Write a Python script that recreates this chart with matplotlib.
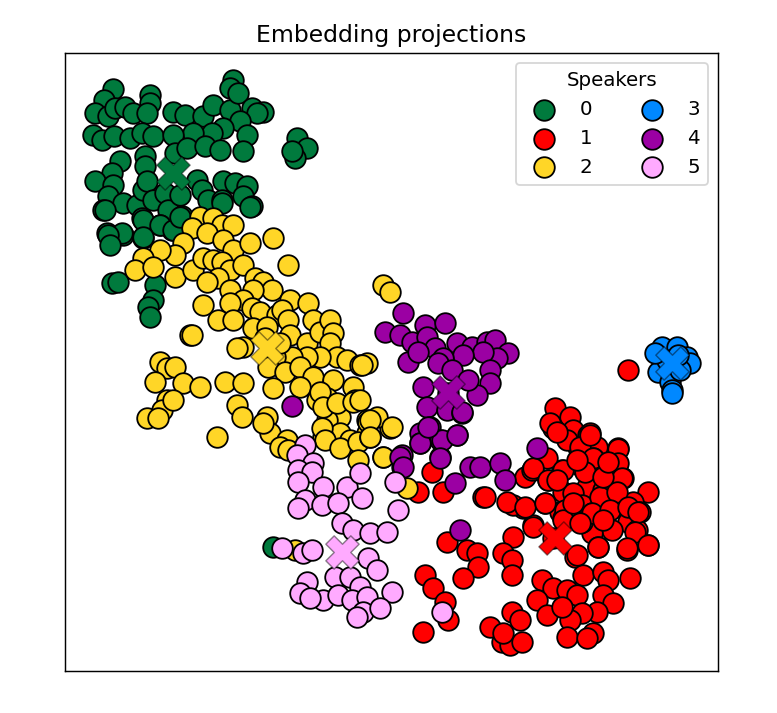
import numpy as np
import matplotlib
matplotlib.use("Agg")
import matplotlib.pyplot as plt

# 2-D embedding projections per speaker (screen-like units)
x0 = [113, 104, 95, 108, 115, 125, 133, 150, 150, 147, 93, 102, 114, 130, 142, 153, 173, 185, 203, 213,
      230, 233, 230, 238, 252, 263, 257, 240, 223, 212, 193, 173, 175, 187, 205, 220, 247, 243, 120, 145,
      145, 112, 95, 113, 108, 103, 123, 137, 143, 147, 153, 165, 168, 180, 197, 202, 208, 223, 235, 247,
      243, 252, 222, 142, 160, 107, 123, 143, 172, 182, 297, 307, 295, 292, 105, 122, 108, 110, 143, 160,
      143, 155, 153, 148, 150, 112, 118, 173, 180, 222, 250, 273]
y0 = [89, 100, 113, 116, 108, 107, 113, 95, 103, 113, 135, 140, 136, 138, 133, 136, 112, 115, 116, 105,
      110, 80, 88, 93, 108, 112, 113, 121, 128, 133, 133, 135, 153, 148, 146, 150, 135, 151, 161, 156,
      166, 173, 181, 185, 196, 210, 203, 205, 190, 181, 200, 193, 210, 195, 180, 190, 200, 181, 183, 186,
      196, 206, 200, 218, 225, 233, 235, 238, 230, 216, 138, 148, 158, 151, 210, 233, 235, 245, 220, 225,
      237, 285, 300, 307, 317, 283, 282, 230, 217, 203, 207, 547]

x1 = [555, 570, 553, 573, 588, 597, 578, 567, 618, 617, 623, 593, 582, 597, 562, 547, 533, 525, 548, 563,
      587, 573, 603, 613, 648, 633, 640, 545, 560, 582, 592, 600, 628, 637, 648, 627, 612, 592, 598, 582,
      563, 553, 533, 523, 513, 507, 483, 513, 503, 512, 512, 575, 583, 603, 608, 630, 542, 553, 537, 547,
      567, 577, 603, 613, 597, 582, 570, 562, 567, 593, 587, 512, 520, 490, 502, 510, 522, 503, 447, 467,
      477, 478, 463, 425, 433, 445, 448, 423, 432, 443, 485, 418, 628, 550, 590, 580, 595, 617, 622, 532,
      557, 590, 618, 593, 563, 533, 548, 585, 618, 622, 600, 617, 525, 545, 565, 592, 610, 628, 638, 533,
      635, 627, 648, 598, 577, 563, 580, 603, 573, 557, 603, 577, 608]
y1 = [408, 417, 428, 430, 435, 447, 447, 440, 448, 465, 478, 458, 467, 472, 470, 458, 470, 477, 480, 492,
      487, 493, 490, 498, 492, 502, 512, 503, 512, 505, 513, 508, 522, 530, 545, 550, 530, 533, 547, 522,
      518, 538, 525, 508, 505, 502, 497, 537, 553, 560, 575, 557, 575, 572, 580, 578, 580, 588, 600, 615,
      590, 595, 595, 603, 612, 613, 620, 607, 637, 633, 638, 612, 620, 627, 642, 645, 642, 633, 542, 550,
      553, 567, 578, 575, 588, 602, 620, 632, 472, 492, 497, 492, 370, 423, 433, 447, 460, 462, 478, 470,
      432, 435, 449, 458, 470, 468, 480, 472, 463, 478, 497, 492, 507, 503, 510, 513, 510, 507, 512, 527,
      532, 548, 545, 547, 555, 520, 523, 520, 503, 480, 477, 460, 462]

x2 = [200, 213, 222, 233, 192, 207, 223, 233, 250, 273, 183, 175, 160, 143, 135, 153, 175, 193, 203, 213,
      222, 230, 243, 218, 207, 230, 255, 263, 272, 288, 253, 243, 230, 203, 252, 260, 277, 290, 308, 282,
      218, 233, 253, 267, 265, 243, 237, 190, 288, 313, 290, 307, 320, 330, 333, 330, 337, 347, 360, 367,
      320, 307, 292, 275, 280, 268, 285, 300, 313, 333, 353, 273, 300, 317, 327, 355, 320, 340, 327, 340,
      323, 367, 390, 367, 350, 267, 270, 263, 287, 160, 167, 175, 155, 183, 200, 225, 243, 167, 162, 147,
      158, 173, 237, 242, 217, 192, 383, 390, 280, 288, 323, 337, 353, 322, 325, 340, 358, 368, 377, 370,
      392, 358, 383, 407, 295, 362, 360, 370, 370, 383]
y2 = [217, 218, 225, 225, 228, 233, 240, 250, 243, 238, 243, 255, 250, 258, 270, 267, 277, 270, 258, 260,
      262, 270, 265, 278, 282, 290, 278, 282, 290, 265, 290, 300, 303, 305, 308, 312, 315, 300, 303, 310,
      320, 320, 328, 327, 338, 347, 348, 335, 320, 320, 335, 343, 332, 320, 333, 343, 357, 360, 365, 363,
      357, 357, 357, 357, 343, 367, 372, 367, 377, 380, 387, 388, 387, 400, 398, 400, 392, 417, 420, 433,
      437, 420, 428, 433, 440, 417, 433, 423, 440, 362, 368, 367, 382, 383, 387, 382, 383, 400, 410, 418,
      418, 400, 405, 417, 437, 335, 285, 292, 447, 450, 407, 403, 402, 428, 440, 448, 442, 422, 417, 437,
      427, 460, 457, 488, 550, 365, 400, 420, 437, 457]

x3 = [662, 677, 687, 690, 658, 670, 672, 672, 680, 667, 678, 655]
y3 = [347, 347, 357, 363, 372, 382, 390, 393, 370, 360, 355, 353]

x4 = [403, 385, 400, 412, 425, 445, 427, 435, 457, 472, 487, 495, 508, 497, 483, 463, 443, 408, 418, 438,
      452, 490, 490, 477, 468, 423, 448, 427, 447, 462, 430, 420, 440, 457, 420, 440, 402, 402, 470, 480,
      500, 505, 455, 537, 460, 292, 420, 442, 457, 440, 428, 462, 400, 403]
y4 = [313, 332, 335, 342, 325, 323, 337, 348, 343, 347, 342, 340, 353, 358, 352, 355, 358, 362, 352, 363,
      370, 370, 383, 395, 380, 387, 393, 407, 410, 413, 427, 433, 440, 435, 443, 457, 455, 467, 467, 467,
      463, 480, 483, 448, 530, 406, 443, 440, 435, 458, 427, 412, 457, 467]

x5 = [305, 297, 313, 298, 312, 298, 323, 347, 360, 305, 322, 338, 362, 298, 395, 398, 342, 353, 370, 387,
      282, 303, 312, 368, 377, 335, 350, 360, 307, 300, 323, 338, 352, 367, 392, 363, 380, 357, 310, 442]
y5 = [445, 455, 463, 470, 472, 482, 487, 487, 473, 500, 505, 503, 498, 508, 482, 510, 523, 530, 533, 532,
      548, 553, 550, 558, 570, 577, 577, 587, 582, 593, 600, 595, 600, 597, 592, 612, 608, 617, 598, 612]

# speaker centroids
cx = [173, 555, 267, 672, 448, 342]
cy = [173, 538, 348, 363, 392, 552]

speakers = ['0', '1', '2', '3', '4', '5']
colors = ['#007A3D', '#FF0000', '#FFD627', '#0088FF', '#9B00A3', '#FFAAFF']

xs = [x0, x1, x2, x3, x4, x5]
ys = [y0, y1, y2, y3, y4, y5]

fig = plt.figure(figsize=(777 / 130, 713 / 130), dpi=130)
ax = fig.add_axes([65 / 777, 1 - 671 / 713, (718 - 65) / 777, (671 - 53) / 713])

for i in range(len(speakers)):
    ax.scatter(xs[i], ys[i], s=130, c=colors[i], edgecolors='black', linewidths=1.0,
               label=speakers[i], zorder=2)

# centroid markers
for i in range(len(speakers)):
    ax.scatter(cx[i], cy[i], s=340, marker='X', c=colors[i], edgecolors=(0, 0, 0, 0.45),
               linewidths=0.8, zorder=3)

ax.set_xlim(65, 718)
ax.set_ylim(671, 53)
ax.set_xticks([])
ax.set_yticks([])
ax.set_title('Embedding projections', fontsize=13)
ax.legend(title='Speakers', ncol=2, loc='upper right', fontsize=11, title_fontsize=11)

fig.savefig('out.png', dpi=130)
